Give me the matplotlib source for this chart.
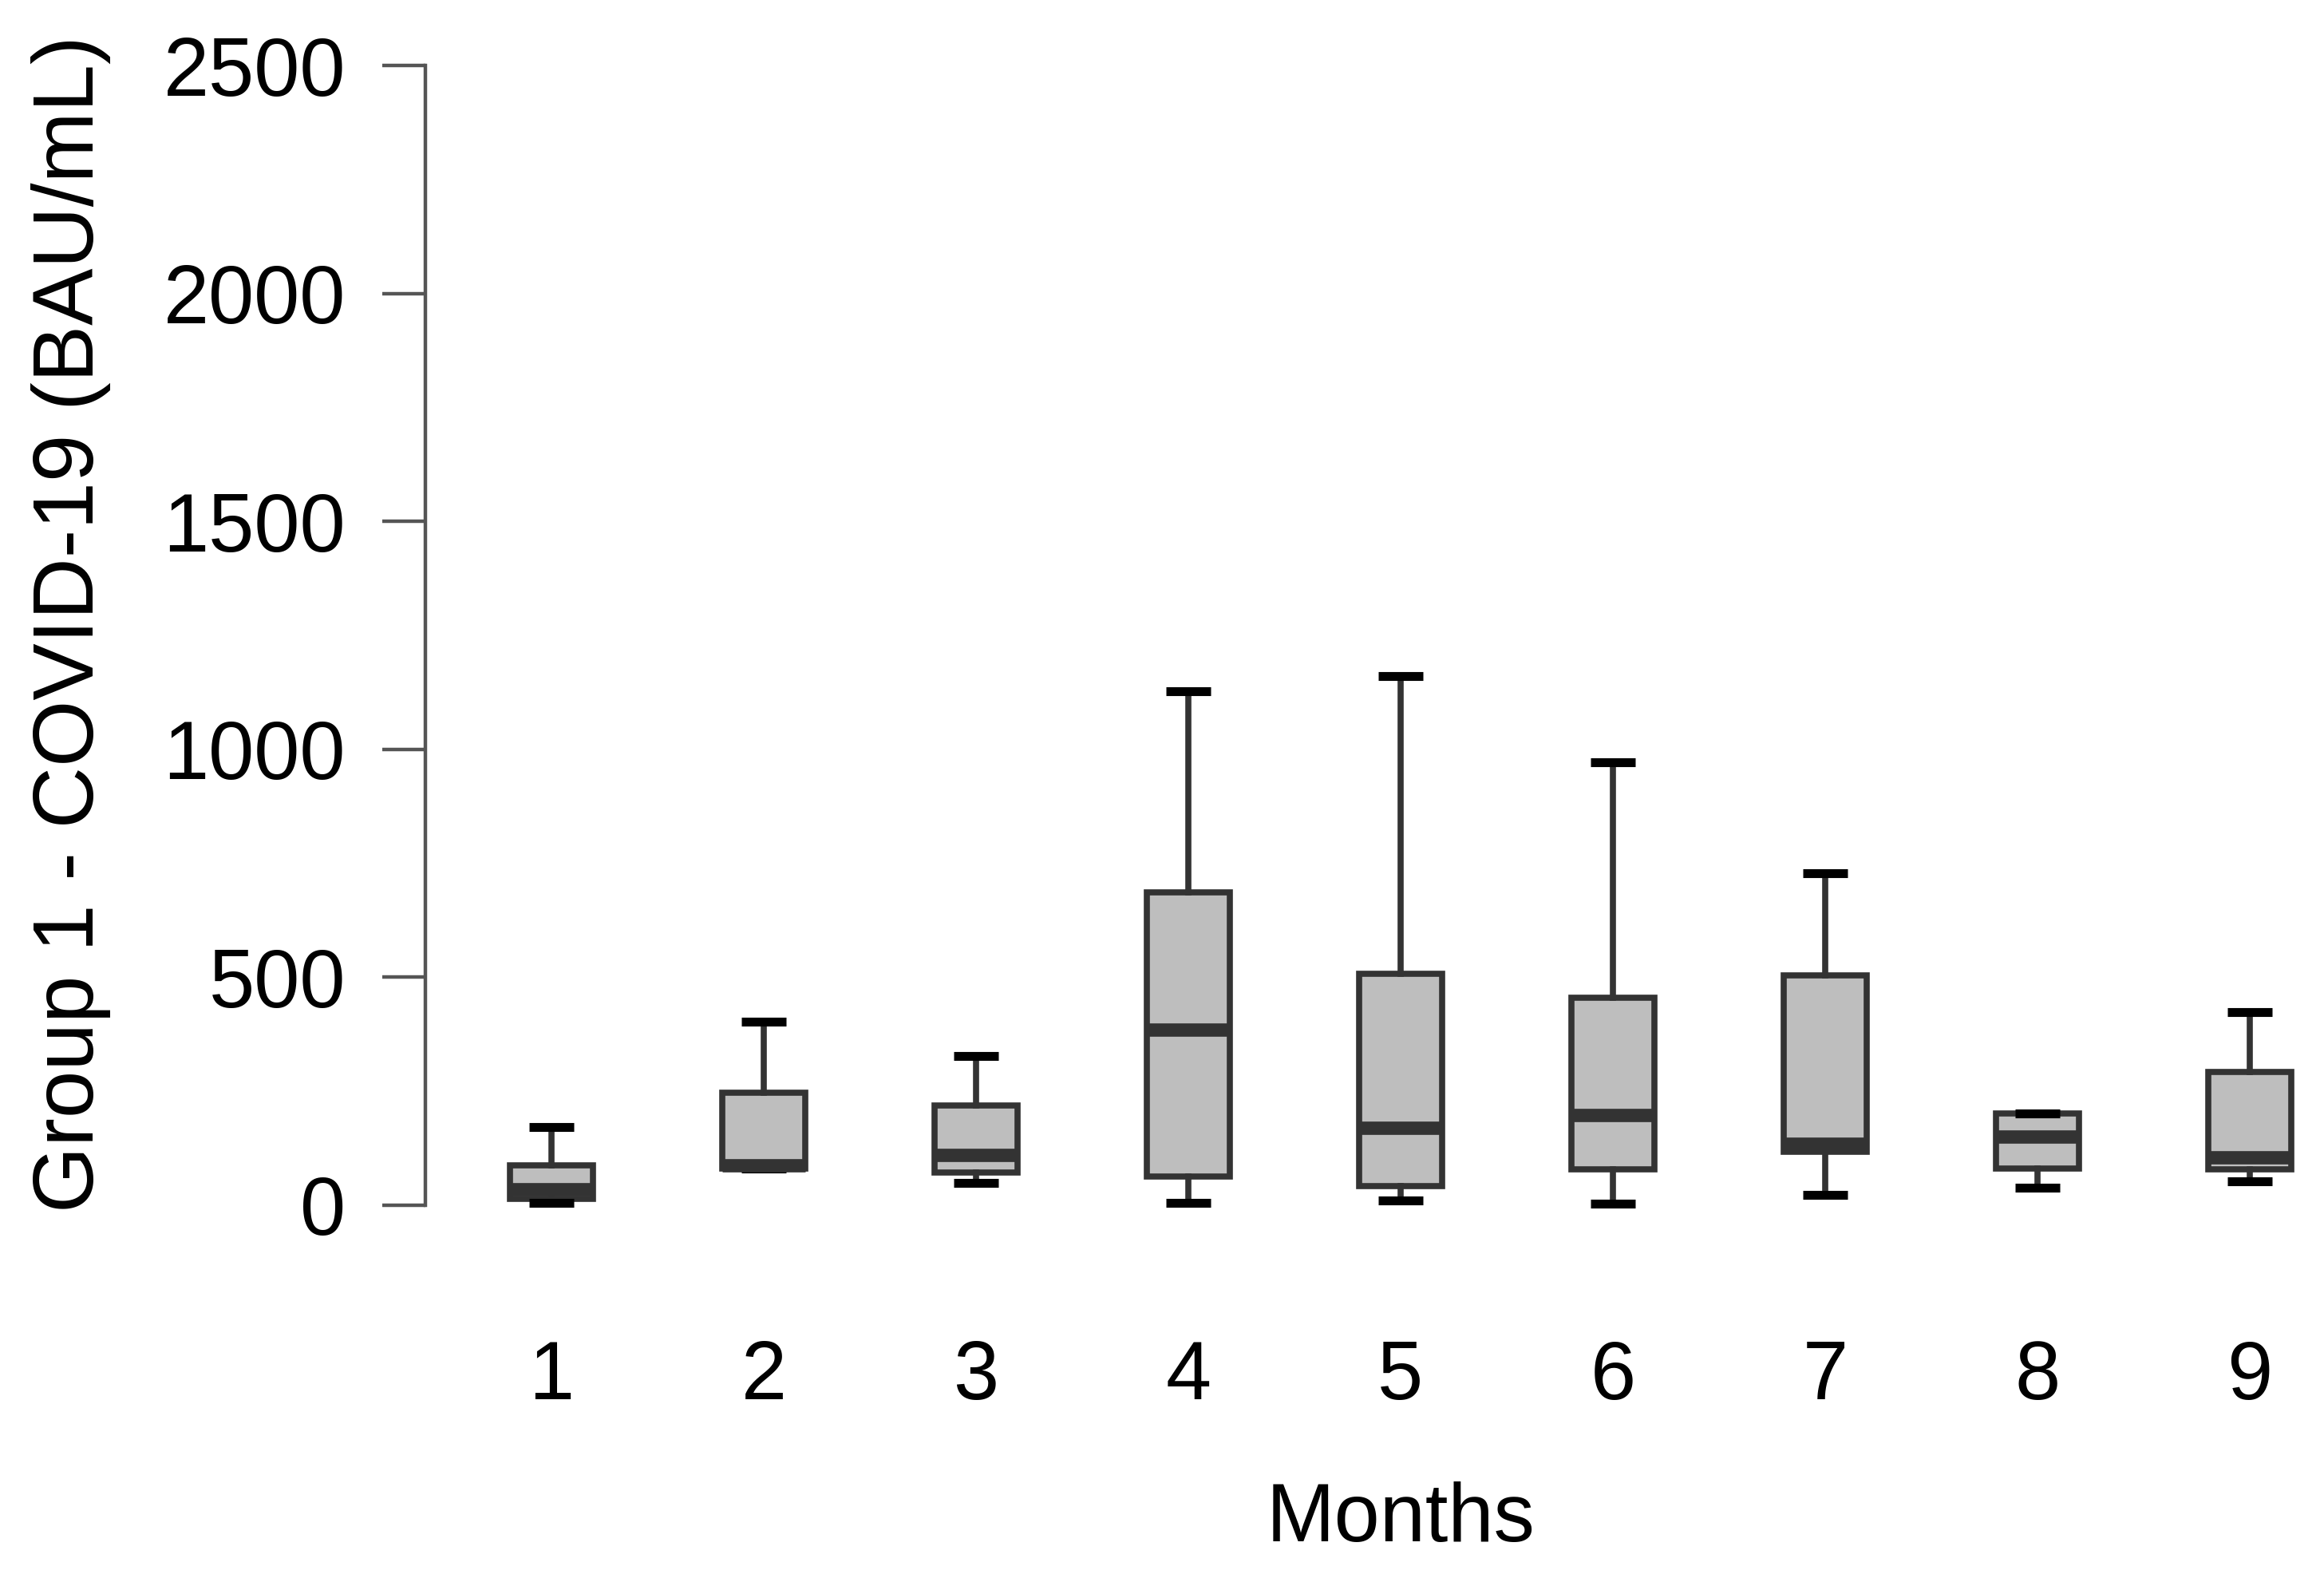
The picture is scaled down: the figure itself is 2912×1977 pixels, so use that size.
import matplotlib.pyplot as plt

# 数据 (从图中读取的箱线图统计量)
months = [1, 2, 3, 4, 5, 6, 7, 8, 9]
whis_lo = [5, 80, 49, 5, 10, 3, 23, 39, 52]
q1 = [14, 80, 72, 63, 42, 78, 117, 81, 78]
median = [35, 88, 110, 385, 169, 198, 135, 150, 104]
q3 = [87, 247, 218, 686, 507, 455, 504, 202, 293]
whis_hi = [171, 403, 328, 1127, 1161, 972, 728, 202, 423]
y_ticks = [0, 500, 1000, 1500, 2000, 2500]

FONT = 'Liberation Sans'
FS = 74
EDGE = '#333333'
FILL = '#BEBEBE'

plt.rcParams['font.family'] = [FONT, 'DejaVu Sans']

fig = plt.figure(figsize=(29.12, 19.77), dpi=100)
ax = fig.add_axes([533 / 2912, 1 - 1567 / 1977, 1 - 533 / 2912, (1567 - 25) / 1977])

stats = []
for i in range(len(months)):
    stats.append({'whislo': whis_lo[i], 'q1': q1[i], 'med': median[i],
                  'q3': q3[i], 'whishi': whis_hi[i], 'fliers': []})

ax.bxp(stats, positions=months, widths=0.39, patch_artist=True,
       showfliers=False, capwidths=0.21,
       boxprops=dict(facecolor=FILL, edgecolor=EDGE, linewidth=5.5),
       medianprops=dict(color=EDGE, linewidth=12, solid_capstyle='butt'),
       whiskerprops=dict(color=EDGE, linewidth=5.5),
       capprops=dict(color='black', linewidth=8, solid_capstyle='butt'))

ax.set_xlim(0.406, 9.35)
ax.set_ylim(-100, 2600)

for s in ['top', 'right', 'bottom']:
    ax.spines[s].set_visible(False)
ax.spines['left'].set_bounds(0, 2500)
ax.spines['left'].set_color('#555555')
ax.spines['left'].set_linewidth(3.2)

ax.set_yticks(y_ticks)
ax.set_yticklabels([str(v) for v in y_ticks], fontsize=FS)
ax.tick_params(axis='y', length=39, width=3.2, color='#555555', pad=33)

ax.set_xticks(months)
ax.set_xticklabels([str(m) for m in months], fontsize=FS)
ax.tick_params(axis='x', length=0, pad=80)

fig.text(1755 / 2912, 1 - 1905 / 1977, 'Months', fontsize=FS,
         ha='center', va='center')
fig.text(89 / 2912, 1 - 782 / 1977, 'Group 1 - COVID-19 (BAU/mL)',
         fontsize=77, rotation=90, ha='center', va='center')

fig.savefig('out.png', dpi=100, facecolor='white')
